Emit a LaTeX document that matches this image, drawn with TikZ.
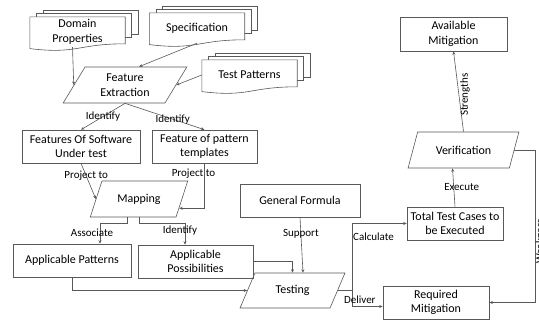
\documentclass[tikz,border=0pt]{standalone}
\usepackage{fontspec}
\setmainfont{Carlito}
\usetikzlibrary{shapes.geometric,arrows.meta,calc}
\tikzset{
  flow chart/.style={
    conn/.style={draw=black!65, line width=0.6pt},
    arr/.style={conn, -{Stealth[length=3.5pt,width=3pt]}},
    box/.style={conn, rectangle, minimum height=33pt, inner sep=1pt, align=center,
        font={\fontsize{12}{14.5}\selectfont}},
    para/.style={conn, trapezium, trapezium left angle=60, trapezium right angle=120,
        trapezium stretches=true, minimum height=36pt, inner sep=1pt, align=center,
        font={\fontsize{12}{14.5}\selectfont}},
    doc/.style={rectangle, minimum width=95pt, minimum height=30pt, inner sep=0pt, align=center,
        font={\fontsize{12}{14.5}\selectfont}},
    lbl/.style={font={\fontsize{11}{13}\selectfont}, inner sep=1pt},
  }
}
\pgfdeclarelayer{background}
\pgfsetlayers{background,main}
\newcommand{\docstack}[1]{
    \begin{pgfonlayer}{background}
    \foreach \k in {2,1}{
        \draw[conn, fill=white] ($(#1.north west)+(6.5*\k,-3.5*\k)$)
            rectangle ($(#1.north east)+(6.5*\k,24-3.5*\k)$);
    }
    \draw[conn, fill=white] (#1.north west) -- (#1.north east) -- ($(#1.north east)+(0,27)$)
        .. controls ($(#1.north)+(0,27)$) and ($(#1.north)+(0,37.6)$) .. ($(#1.north west)+(0,31.8)$)
        -- cycle;
    \end{pgfonlayer}
}

\begin{document}
\begin{tikzpicture}[flow chart, x=1pt, y=-1pt]
    \useasboundingbox (0,0) rectangle (539,322);

    % inputs
    \node[doc] (dom) at (77.5,32) {Domain\\Properties};
    \node[doc] (spec) at (197,28) {Specification};
    \node[doc] (tpat) at (249.5,75) {Test Patterns};
    \docstack{dom}
    \docstack{spec}
    \docstack{tpat}

    \node[para, minimum width=124pt] (fext) at (125,85) {Feature\\Extraction};
    \node[box, minimum width=118pt] (fsut) at (81,146.5) {Features Of Software\\Under test};
    \node[box, minimum width=105pt] (fpat) at (204.5,146.5) {Feature of pattern\\templates};
    \node[para, minimum width=98pt] (mapp) at (139,199) {Mapping};
    \node[box, minimum width=118pt] (apat) at (72,260.5) {Applicable Patterns};
    \node[box, minimum width=115pt] (aposs) at (195.5,261.5) {Applicable\\Possibilities};
    \node[box, minimum width=120pt] (gform) at (300,200.5) {General Formula};
    \node[para, minimum width=105pt, minimum height=35pt] (test) at (292.5,290.5) {Testing};
    \node[box, minimum width=96pt] (ttc) at (455,223.5) {Total Test Cases to\\be Executed};
    \node[box, minimum width=106pt] (rmit) at (436,302.5) {Required\\Mitigation};
    \node[para, minimum width=111pt] (verif) at (463.5,150) {Verification};
    \node[box, minimum width=107pt, minimum height=34pt] (amit) at (453.5,34) {Available\\Mitigation};

    % connectors
    \draw[arr] ([xshift=-5pt]dom.south) -- (fext.west);
    \draw[arr] (spec.south) -- ([xshift=14pt]fext.north);
    \draw[arr] (tpat.west) -- (fext.east);
    \draw[arr] (fext.south) -- node[lbl, at={(94,114)}] {Identify} (fsut.north);
    \draw[arr] (fext.south) -- node[lbl, pos=0.6] {Identify} (fpat.north);
    \draw[arr] (fsut.south) -- node[lbl, pos=0.35] {Project to} (mapp.west);
    \draw[arr] (fpat.south) |- node[lbl, pos=0.12, xshift=-11pt] {Project to} (mapp.-13);
    \draw[arr] ([xshift=-12pt]mapp.south) -- ++(0,6)
        -| node[lbl, pos=0.74, xshift=-8pt] {Associate} ([xshift=28pt]apat.north);
    \draw[arr] (mapp.south) -- ++(0,6)
        -| node[lbl, pos=0.66, xshift=-5pt] {Identify} ([xshift=-10.5pt]aposs.north);
    \draw[arr] (apat.south) |- (test.west);
    \draw[arr] (aposs.east) -| (test.north);
    \draw[arr] (gform.south) -- node[lbl, pos=0.3] {Support} ([xshift=10.5pt]test.north);
    \draw[conn] (test.east) -- ++(14,0) coordinate (fork);
    \draw[arr] (fork) |- node[lbl, pos=0.4, anchor=west] {Calculate} (ttc.west);
    \draw[arr] (fork) |- node[lbl, pos=0.3, xshift=8pt] {Deliver} ([yshift=-4pt]rmit.west);
    \draw[arr] (ttc.north) -- node[lbl, xshift=8pt] {Execute} ([xshift=-11pt]verif.south);
    \draw[arr] (verif.north) -- node[lbl, rotate=90, anchor=north, pos=0.46] {Strengths} (amit.south);
    \draw[arr] (verif.east) -- ++(21,0)
        |- node[lbl, rotate=90, anchor=north, inner sep=0pt, pos=0.3] {Weakness} (rmit.east);
\end{tikzpicture}
\end{document}
